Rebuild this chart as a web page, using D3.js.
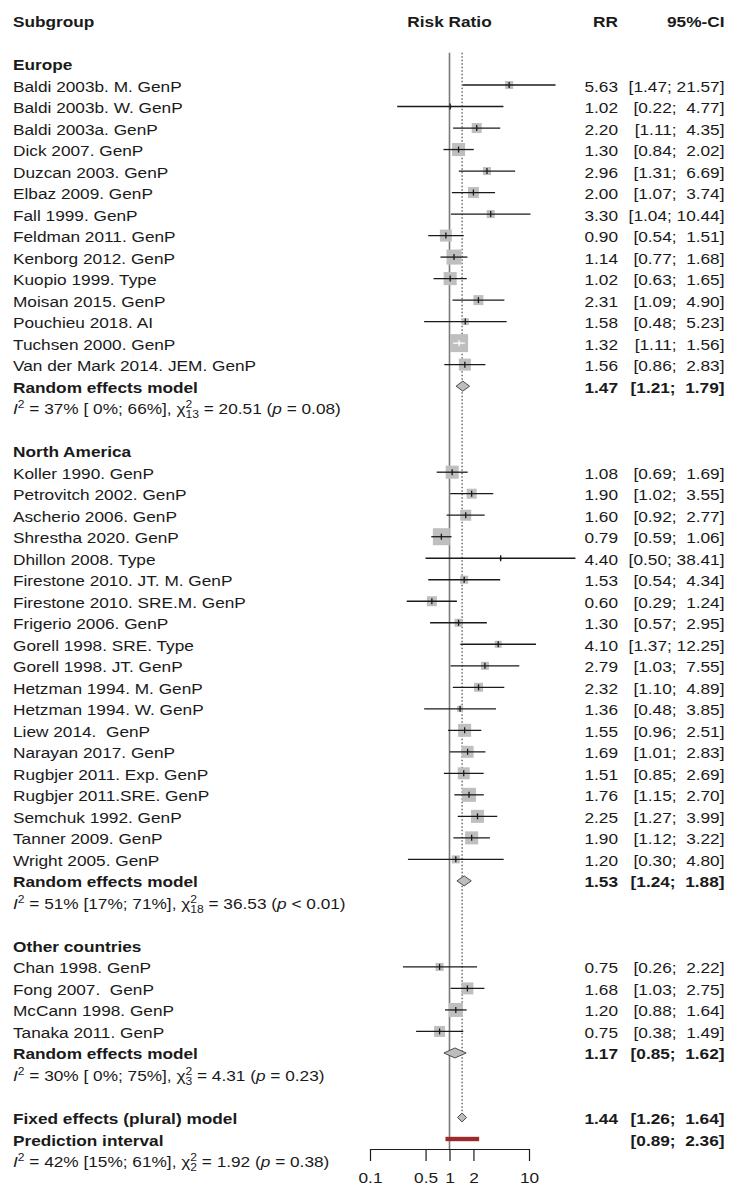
<!DOCTYPE html>
<html>
<head>
<meta charset="utf-8">
<script src="https://cdn.jsdelivr.net/npm/d3@7"></script>
<style>
  html, body { margin: 0; padding: 0; background: #fff; }
  text { font-family: "Liberation Sans", Arial, sans-serif; fill: #1a1a1a; white-space: pre; }
</style>
</head>
<body>
<svg id="chart" width="729" height="1193"></svg>
<script>
// ---- Subgroups -------------------------------------------------------------
const groups = ["Europe", "North America", "Other countries"];

// ---- Europe ----------------------------------------------------------------
const europeStudies = [
  "Baldi 2003b. M. GenP", "Baldi 2003b. W. GenP", "Baldi 2003a. GenP", "Dick 2007. GenP",
  "Duzcan 2003. GenP", "Elbaz 2009. GenP", "Fall 1999. GenP", "Feldman 2011. GenP",
  "Kenborg 2012. GenP", "Kuopio 1999. Type", "Moisan 2015. GenP", "Pouchieu 2018. AI",
  "Tuchsen 2000. GenP", "Van der Mark 2014. JEM. GenP"
];
const europeRR    = [5.63, 1.02, 2.20, 1.30, 2.96, 2.00, 3.30, 0.90, 1.14, 1.02, 2.31, 1.58, 1.32, 1.56];
const europeLower = [1.47, 0.22, 1.11, 0.84, 1.31, 1.07, 1.04, 0.54, 0.77, 0.63, 1.09, 0.48, 1.11, 0.86];
const europeUpper = [21.57, 4.77, 4.35, 2.02, 6.69, 3.74, 10.44, 1.51, 1.68, 1.65, 4.90, 5.23, 1.56, 2.83];
const europeWeight = [3.7, 0.5, 5.7, 9.7, 3.7, 6.9, 3.7, 8.2, 12.9, 9.7, 5.7, 2.8, 18.5, 8.2];

// ---- North America ---------------------------------------------------------
const naStudies = [
  "Koller 1990. GenP", "Petrovitch 2002. GenP", "Ascherio 2006. GenP", "Shrestha 2020. GenP",
  "Dhillon 2008. Type", "Firestone 2010. JT. M. GenP", "Firestone 2010. SRE.M. GenP",
  "Frigerio 2006. GenP", "Gorell 1998. SRE. Type", "Gorell 1998. JT. GenP",
  "Hetzman 1994. M. GenP", "Hetzman 1994. W. GenP", "Liew 2014.  GenP", "Narayan 2017. GenP",
  "Rugbjer 2011. Exp. GenP", "Rugbjer 2011.SRE. GenP", "Semchuk 1992. GenP",
  "Tanner 2009. GenP", "Wright 2005. GenP"
];
const naRR    = [1.08, 1.90, 1.60, 0.79, 4.40, 1.53, 0.60, 1.30, 4.10, 2.79, 2.32, 1.36, 1.55, 1.69, 1.51, 1.76, 2.25, 1.90, 1.20];
const naLower = [0.69, 1.02, 0.92, 0.59, 0.50, 0.54, 0.29, 0.57, 1.37, 1.03, 1.10, 0.48, 0.96, 1.01, 0.85, 1.15, 1.27, 1.12, 0.30];
const naUpper = [1.69, 3.55, 2.77, 1.06, 38.41, 4.34, 1.24, 2.95, 12.25, 7.55, 4.89, 3.85, 2.51, 2.83, 2.69, 2.70, 3.99, 3.22, 4.80];
const naWeight = [9.7, 5.7, 6.9, 16.5, 0.5, 3.7, 5.7, 3.7, 2.8, 3.7, 4.6, 2.1, 9.7, 8.2, 8.2, 11.2, 9.7, 9.7, 3.7];

// ---- Other countries -------------------------------------------------------
const otherStudies = ["Chan 1998. GenP", "Fong 2007.  GenP", "McCann 1998. GenP", "Tanaka 2011. GenP"];
const otherRR    = [0.75, 1.68, 1.20, 0.75];
const otherLower = [0.26, 1.03, 0.88, 0.38];
const otherUpper = [2.22, 2.75, 1.64, 1.49];
const otherWeight = [3.7, 8.2, 11.2, 6.9];

// ---- Pooled estimates per subgroup (random effects) ------------------------
const modelRR    = [1.47, 1.53, 1.17];
const modelLower = [1.21, 1.24, 0.85];
const modelUpper = [1.79, 1.88, 1.62];

// ---- Heterogeneity per subgroup --------------------------------------------
const hetI2     = [37, 51, 30];
const hetI2Low  = [0, 17, 0];
const hetI2High = [66, 71, 75];
const hetQ      = ["20.51", "36.53", "4.31"];
const hetDf     = [13, 18, 3];
const hetP      = ["= 0.08", "< 0.01", "= 0.23"];

// ---- Overall ---------------------------------------------------------------
const fixedRR = [1.44], fixedLower = [1.26], fixedUpper = [1.64];
const predLower = [0.89], predUpper = [2.36];
const subgroupI2 = [42], subgroupI2Low = [15], subgroupI2High = [61];
const subgroupQ = ["1.92"], subgroupDf = [2], subgroupP = ["= 0.38"];

// ---- Axis ------------------------------------------------------------------
const tickValues = [0.1, 0.5, 1, 2, 10];
const tickLabels = ["0.1", "0.5", "1", "2", "10"];

// ============================================================================
const studiesByGroup = [
  { labels: europeStudies, rr: europeRR, lo: europeLower, hi: europeUpper, w: europeWeight },
  { labels: naStudies, rr: naRR, lo: naLower, hi: naUpper, w: naWeight },
  { labels: otherStudies, rr: otherRR, lo: otherLower, hi: otherUpper, w: otherWeight }
];

const svg = d3.select("#chart");
svg.append("rect").attr("width", 729).attr("height", 1193).attr("fill", "#fff");

const FS = 15, SX = 1.15;
const ROW0 = 63.5, STEP = 21.51;
const rowY = i => ROW0 + i * STEP;
const BASE = 6.5;

const x = d3.scaleLog().domain([0.1, 10]).range([370, 529]);
const sq = d3.scaleSqrt().domain([0, 18.5]).range([0, 18]);

const X_LABEL = 13, X_RR = 618, X_CI = 724.5;

function txt(px, py, anchor, bold) {
  const g = svg.append("g").attr("transform", `translate(${px},${py}) scale(${SX},1)`);
  return g.append("text")
    .attr("text-anchor", anchor)
    .attr("font-size", FS)
    .attr("font-weight", bold ? "bold" : "normal")
    .attr("xml:space", "preserve");
}
const f2 = v => v.toFixed(2);
const padL = (s, n) => s.length >= n ? s : " ".repeat(n - s.length) + s;
const ciText = (lo, hi) => `[${f2(lo)}; ${padL(f2(hi), 5)}]`;

function hetLine(row, i2, lo, hi, q, df, p) {
  const t = txt(X_LABEL, rowY(row) + BASE, "start", false);
  const small = FS * 0.7;
  t.append("tspan").attr("font-style", "italic").text("I");
  t.append("tspan").attr("font-size", small).attr("dy", -6).text("2");
  t.append("tspan").attr("dy", 6).text(` = ${i2}% [${padL(String(lo), 2)}%; ${padL(String(hi), 2)}%], `);
  t.append("tspan").text("\u03c7");
  t.append("tspan").attr("font-size", small).attr("dy", -6).text("2");
  t.append("tspan").attr("font-size", small).attr("dx", -small * 0.556).attr("dy", 10).text(String(df));
  t.append("tspan").attr("dy", -4).text(` = ${q} (`);
  t.append("tspan").attr("font-style", "italic").text("p");
  t.append("tspan").text(` ${p})`);
}

// ---- Header ----------------------------------------------------------------
const headY = rowY(-2) + BASE + 0.5;
txt(X_LABEL, headY, "start", true).text("Subgroup");
txt(x(1), headY, "middle", true).text("Risk Ratio");
txt(X_RR, headY, "end", true).text("RR");
txt(X_CI, headY, "end", true).text("95%-CI");

// ---- Reference lines -------------------------------------------------------
const topY = rowY(0) - STEP / 2;
const axisY = rowY(50) + 10;
svg.append("line")
  .attr("x1", x(1)).attr("x2", x(1)).attr("y1", topY).attr("y2", axisY)
  .attr("stroke", "#7a7a7a").attr("stroke-width", 1.6);
svg.append("line")
  .attr("x1", x(fixedRR[0])).attr("x2", x(fixedRR[0])).attr("y1", topY).attr("y2", rowY(49) - 4.5)
  .attr("stroke", "#222").attr("stroke-width", 1).attr("stroke-dasharray", "1.5,2");

// ---- Diamond helper --------------------------------------------------------
function diamond(row, est, lo, hi, h) {
  const y = rowY(row);
  svg.append("path")
    .attr("d", `M${x(lo)},${y}L${x(est)},${y - h}L${x(hi)},${y}L${x(est)},${y + h}Z`)
    .attr("fill", "#bdbdbd").attr("stroke", "#4d4d4d").attr("stroke-width", 1);
}

// ---- Rows ------------------------------------------------------------------
let r = 0;
groups.forEach((gName, gi) => {
  txt(X_LABEL, rowY(r) + BASE, "start", true).text(gName);
  r++;
  const s = studiesByGroup[gi];
  s.labels.forEach((lab, k) => {
    const y = rowY(r);
    const side = sq(s.w[k]);
    const cx = x(s.rr[k]);
    svg.append("rect")
      .attr("x", cx - side / 2).attr("y", y - side / 2)
      .attr("width", side).attr("height", side)
      .attr("fill", "#bfbfbf");
    const inside = x(s.lo[k]) >= cx - side / 2 && x(s.hi[k]) <= cx + side / 2;
    const col = inside ? "#ffffff" : "#1a1a1a";
    svg.append("line")
      .attr("x1", x(s.lo[k])).attr("x2", x(s.hi[k])).attr("y1", y).attr("y2", y)
      .attr("stroke", col).attr("stroke-width", 1.3);
    svg.append("line")
      .attr("x1", cx).attr("x2", cx).attr("y1", y - 3).attr("y2", y + 3)
      .attr("stroke", col).attr("stroke-width", 1.3);
    txt(X_LABEL, y + BASE, "start", false).text(lab);
    txt(X_RR, y + BASE, "end", false).text(f2(s.rr[k]));
    txt(X_CI, y + BASE, "end", false).text(ciText(s.lo[k], s.hi[k]));
    r++;
  });
  diamond(r, modelRR[gi], modelLower[gi], modelUpper[gi], 5);
  txt(X_LABEL, rowY(r) + BASE, "start", true).text("Random effects model");
  txt(X_RR, rowY(r) + BASE, "end", true).text(f2(modelRR[gi]));
  txt(X_CI, rowY(r) + BASE, "end", true).text(ciText(modelLower[gi], modelUpper[gi]));
  r++;
  hetLine(r, hetI2[gi], hetI2Low[gi], hetI2High[gi], hetQ[gi], hetDf[gi], hetP[gi]);
  r++;
  r++; // spacer
});

// ---- Overall fixed effect --------------------------------------------------
diamond(r, fixedRR[0], fixedLower[0], fixedUpper[0], 4.5);
txt(X_LABEL, rowY(r) + BASE, "start", true).text("Fixed effects (plural) model");
txt(X_RR, rowY(r) + BASE, "end", true).text(f2(fixedRR[0]));
txt(X_CI, rowY(r) + BASE, "end", true).text(ciText(fixedLower[0], fixedUpper[0]));
r++;

// ---- Prediction interval ---------------------------------------------------
svg.append("rect")
  .attr("x", x(predLower[0])).attr("y", rowY(r) - 2.2)
  .attr("width", x(predUpper[0]) - x(predLower[0])).attr("height", 4.4)
  .attr("fill", "#9c2a2c");
txt(X_LABEL, rowY(r) + BASE, "start", true).text("Prediction interval");
txt(X_CI, rowY(r) + BASE, "end", true).text(ciText(predLower[0], predUpper[0]));
r++;

// ---- Test for subgroup differences ----------------------------------------
hetLine(r, subgroupI2[0], subgroupI2Low[0], subgroupI2High[0], subgroupQ[0], subgroupDf[0], subgroupP[0]);

// ---- X axis ----------------------------------------------------------------
const axis = d3.axisBottom(x)
  .tickValues(tickValues)
  .tickFormat((d, i) => tickLabels[i])
  .tickSize(12)
  .tickSizeOuter(0)
  .tickPadding(11.5);
const gAxis = svg.append("g").attr("transform", `translate(0,${axisY})`).call(axis);
gAxis.select(".domain").attr("stroke", "#1a1a1a").attr("stroke-width", 1.2);
gAxis.selectAll(".tick line").attr("stroke", "#1a1a1a").attr("stroke-width", 1.2);
gAxis.selectAll(".tick text")
  .attr("font-size", FS)
  .attr("font-family", "'Liberation Sans', Arial, sans-serif")
  .attr("fill", "#1a1a1a")
  .attr("transform", `scale(${SX},1)`);
</script>
</body>
</html>
